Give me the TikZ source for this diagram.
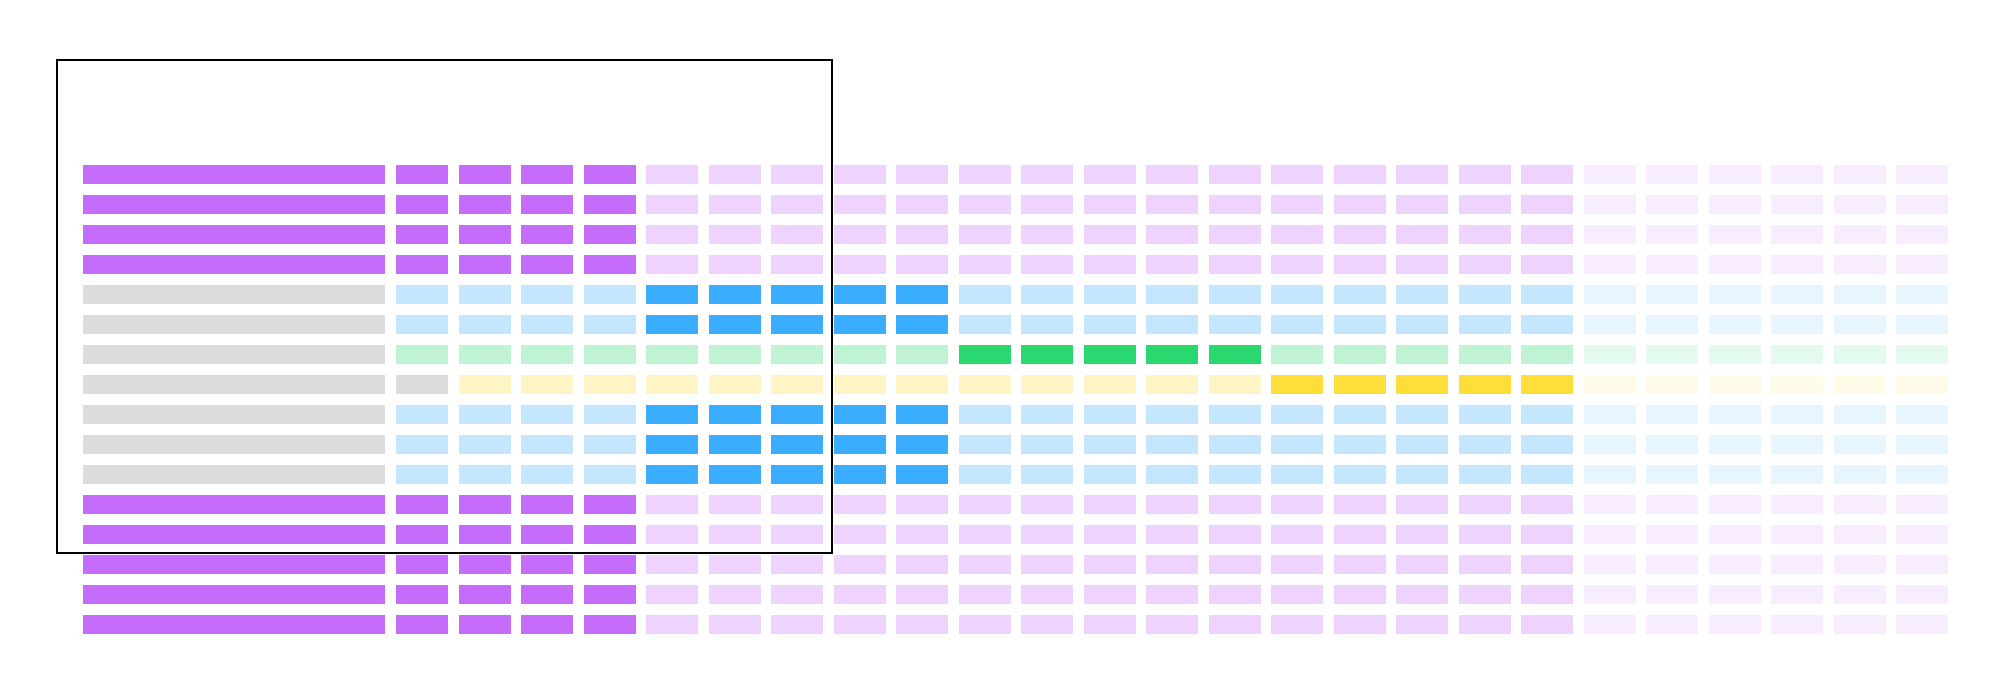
\documentclass[tikz,border=0pt]{standalone}
\usepackage{tikz}
\usetikzlibrary{positioning}

\definecolor{purp}{HTML}{C56CFA}
\definecolor{blu}{HTML}{3AADFF}
\definecolor{grn}{HTML}{2AD86F}
\definecolor{yel}{HTML}{FFDE3A}
\definecolor{barg}{HTML}{DCDCDC}

\begin{document}
\begin{tikzpicture}[
            node distance=0.11cm and 0.105cm,
            every node/.style={rectangle, inner sep=0pt, outer sep=0pt, minimum height=0.19cm},
            barbox/.style={minimum width=3.02cm},
            cellbox/.style={minimum width=0.52cm}
        ]
            \useasboundingbox (0,0) rectangle (20,6.82);

            % rows: colour, bar colour, strong columns from..to, grey cells in front
            \foreach \row/\clr/\barclr/\hs/\he/\ng in {
                1/purp/purp/1/4/0, 2/purp/purp/1/4/0, 3/purp/purp/1/4/0, 4/purp/purp/1/4/0,
                5/blu/barg/5/9/0, 6/blu/barg/5/9/0, 7/grn/barg/10/14/0, 8/yel/barg/15/19/1,
                9/blu/barg/5/9/0, 10/blu/barg/5/9/0, 11/blu/barg/5/9/0,
                12/purp/purp/1/4/0, 13/purp/purp/1/4/0, 14/purp/purp/1/4/0,
                15/purp/purp/1/4/0, 16/purp/purp/1/4/0}{
                \node[barbox, fill=\barclr] (bar\row) at (2.34, {5.075-(\row-1)*0.3}) {};
                \foreach \col [remember=\col as \prev (initially 0)] in {1,...,25}{
                    \ifnum\col>19 \def\lvl{12}\else
                        \ifnum\col<\hs\relax \def\lvl{30}\else
                            \ifnum\col>\he\relax \def\lvl{30}\else \def\lvl{100}\fi\fi\fi
                    \edef\fillc{\clr!\lvl}
                    \ifnum\col>\ng\relax\else \def\fillc{barg}\fi
                    \ifnum\col=1
                        \node[cellbox, fill=\fillc, right=0.11cm of bar\row] (c\row-\col) {};
                    \else
                        \node[cellbox, fill=\fillc, right=of c\row-\prev] (c\row-\col) {};
                    \fi
                }
            }

            % Frame on top
            \node[draw, fill=none, minimum width=7.75cm, minimum height=4.93cm] (frame) at (4.445,3.755) {};
        \end{tikzpicture}
\end{document}
